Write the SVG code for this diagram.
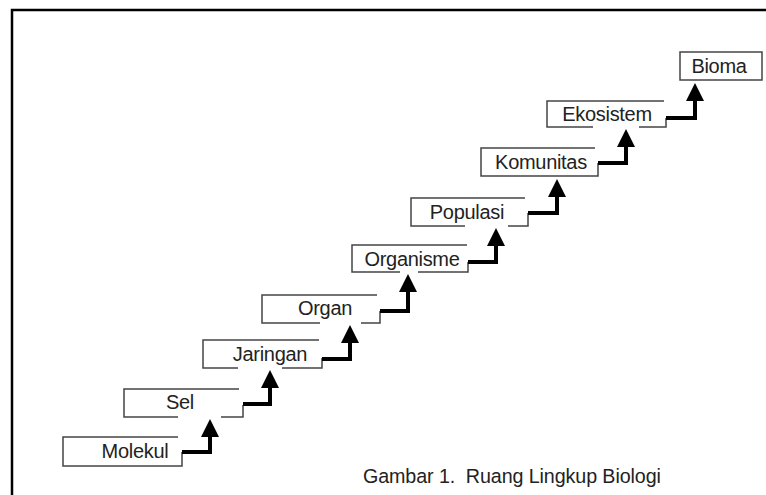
<svg xmlns="http://www.w3.org/2000/svg" width="766" height="495" viewBox="0 0 766 495">
<style>
.frame{fill:none;stroke:#000;stroke-width:2.5}
.box{fill:none;stroke:#444;stroke-width:1.5}
.lbl{font-family:"Liberation Sans",Arial,sans-serif;font-size:20px;letter-spacing:-0.3px;fill:#222;text-anchor:middle}
.cap{font-family:"Liberation Sans",Arial,sans-serif;font-size:19.7px;letter-spacing:-0.1px;fill:#222;white-space:pre}
.arr{fill:none;stroke:#000;stroke-width:4;stroke-linejoin:miter}
</style>
<defs>
<marker id="ah" markerUnits="userSpaceOnUse" markerWidth="20" markerHeight="20" viewBox="0 0 20 20" refX="4" refY="10" orient="auto">
<path d="M0,1 L18,10 L0,19 Z" fill="#000"/>
</marker>
</defs>
<rect width="766" height="495" fill="#fff"/>
<path class="frame" d="M766,10 H12 V495"/>

<g id="molekul">
<path class="box" d="M178,437 H63 V466 H182 V452"/>
<text class="lbl" x="135" y="458">Molekul</text>
</g>
<g id="sel">
<path class="box" d="M239,389 H124 V417 H178 M221,417 H243 V405"/>
<text class="lbl" x="180" y="409">Sel</text>
</g>
<g id="jaringan">
<path class="box" d="M319,340 H203 V368 H238 M282,368 H322 V358"/>
<text class="lbl" x="270" y="361">Jaringan</text>
</g>
<g id="organ">
<path class="box" d="M377,295 H262 V323 H320 M361,323 H380 V311"/>
<text class="lbl" x="325" y="315">Organ</text>
</g>
<g id="organisme">
<path class="box" d="M467,245 H352 V272 H400 M418,272 H468 V262"/>
<text class="lbl" x="412" y="266">Organisme</text>
</g>
<g id="populasi">
<path class="box" d="M525,198 H411 V226 H465 M508,226 H528 V213"/>
<text class="lbl" x="467" y="219">Populasi</text>
</g>
<g id="komunitas">
<path class="box" d="M595,148 H481 V176 H598 V163"/>
<text class="lbl" x="541" y="169">Komunitas</text>
</g>
<g id="ekosistem">
<path class="box" d="M664,101 H547 V127 H593 M639,127 H666 V118"/>
<text class="lbl" x="607" y="121">Ekosistem</text>
</g>
<g id="bioma">
<rect class="box" x="680" y="52" width="82" height="28"/>
<text class="lbl" x="719" y="73">Bioma</text>
</g>

<g id="connectors">
<path class="arr" d="M182,452 H210 V433" marker-end="url(#ah)"/>
<path class="arr" d="M243,404 H270 V384" marker-end="url(#ah)"/>
<path class="arr" d="M322,359 H350 V339" marker-end="url(#ah)"/>
<path class="arr" d="M380,311 H408 V288" marker-end="url(#ah)"/>
<path class="arr" d="M468,262 H496 V242" marker-end="url(#ah)"/>
<path class="arr" d="M528,213 H557 V193" marker-end="url(#ah)"/>
<path class="arr" d="M598,163 H626 V143" marker-end="url(#ah)"/>
<path class="arr" d="M666,118 H695 V97" marker-end="url(#ah)"/>
</g>

<text class="cap" x="363" y="483">Gambar 1.  Ruang Lingkup Biologi</text>
</svg>
